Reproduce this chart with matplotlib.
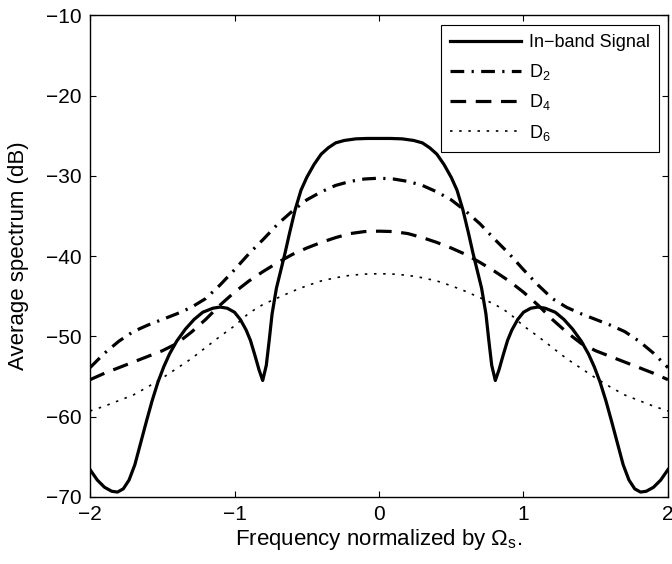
import matplotlib
matplotlib.use("Agg")
from matplotlib import pyplot as plt

# Fonts
plt.rcParams["font.family"] = ["Liberation Sans", "DejaVu Sans"]
plt.rcParams["mathtext.default"] = "regular"


# Data
signal_x = [-2.00, -1.95, -1.90, -1.85, -1.81, -1.77, -1.73, -1.69, -1.65, -1.61, -1.57, -1.53, -1.49,
	-1.45, -1.40, -1.34, -1.28, -1.22, -1.15, -1.10, -1.05, -1.00, -0.96, -0.92, -0.89, -0.86, -0.83,
	-0.805, -0.78, -0.76, -0.74, -0.71, -0.68, -0.65, -0.62, -0.58, -0.54, -0.50, -0.45, -0.40, -0.35,
	-0.30, -0.24, -0.16, -0.08, 0.00,
	0.08, 0.16, 0.24, 0.30, 0.35, 0.40, 0.45, 0.50, 0.54, 0.58, 0.62, 0.65, 0.68, 0.71, 0.74, 0.76,
	0.78, 0.805, 0.83, 0.86, 0.89, 0.92, 0.96, 1.00, 1.05, 1.10, 1.15, 1.22, 1.28, 1.34, 1.40, 1.45,
	1.49, 1.53, 1.57, 1.61, 1.65, 1.69, 1.73, 1.77, 1.81, 1.85, 1.90, 1.95, 2.00]
signal_y = [-66.6, -67.9, -68.8, -69.3, -69.4, -69.0, -67.9, -66.0, -63.3, -60.6, -58.0, -55.7, -53.8,
	-52.2, -50.6, -49.1, -47.9, -47.0, -46.5, -46.35, -46.5, -47.0, -47.9, -49.2, -50.5, -52.3, -54.2,
	-55.5, -53.6, -50.5, -47.2, -44.0, -41.8, -39.6, -37.2, -34.2, -31.8, -30.2, -28.6, -27.3, -26.5,
	-25.9, -25.6, -25.4, -25.35, -25.35,
	-25.35, -25.4, -25.6, -25.9, -26.5, -27.3, -28.6, -30.2, -31.8, -34.2, -37.2, -39.6, -41.8, -44.0,
	-47.2, -50.5, -53.6, -55.5, -54.2, -52.3, -50.5, -49.2, -47.9, -47.0, -46.5, -46.35, -46.5, -47.0,
	-47.9, -49.1, -50.6, -52.2, -53.8, -55.7, -58.0, -60.6, -63.3, -66.0, -67.9, -69.0, -69.4, -69.3,
	-68.8, -67.9, -66.6]

dist_x = [-2.0, -1.9, -1.8, -1.7, -1.6, -1.5, -1.4, -1.3, -1.2, -1.1, -1.0, -0.9, -0.8, -0.7, -0.6,
	-0.5, -0.4, -0.3, -0.2, -0.1, 0.0, 0.1, 0.2, 0.3, 0.4, 0.5, 0.6, 0.7, 0.8, 0.9, 1.0, 1.1, 1.2,
	1.3, 1.4, 1.5, 1.6, 1.7, 1.8, 1.9, 2.0]
d2_y = [-53.9, -52.1, -50.6, -49.4, -48.6, -47.9, -47.2, -46.4, -45.3, -43.6, -41.7, -39.7, -37.9,
	-36.0, -34.4, -33.0, -32.0, -31.2, -30.7, -30.4, -30.3, -30.4, -30.7, -31.2, -32.0, -33.0, -34.4,
	-36.0, -37.9, -39.7, -41.7, -43.6, -45.3, -46.4, -47.2, -47.9, -48.6, -49.4, -50.6, -52.1, -53.9]
d4_y = [-55.4, -54.6, -53.9, -53.2, -52.5, -51.8, -50.9, -49.5, -47.9, -46.1, -44.5, -43.1, -41.9,
	-40.8, -39.8, -39.0, -38.3, -37.7, -37.2, -36.95, -36.9, -36.95, -37.2, -37.7, -38.3, -39.0, -39.8,
	-40.8, -41.9, -43.1, -44.5, -46.1, -47.9, -49.5, -50.9, -51.8, -52.5, -53.2, -53.9, -54.6, -55.4]
d6_y = [-59.3, -58.7, -58.0, -57.3, -56.3, -55.2, -54.0, -52.8, -51.4, -50.0, -48.7, -47.1, -46.0,
	-45.2, -44.4, -43.7, -43.1, -42.7, -42.4, -42.25, -42.2, -42.25, -42.4, -42.7, -43.1, -43.7, -44.4,
	-45.2, -46.0, -47.1, -48.7, -50.0, -51.4, -52.8, -54.0, -55.2, -56.3, -57.3, -58.0, -58.7, -59.3]

labels = ["In\u2212band Signal", "D$_2$", "D$_4$", "D$_6$"]
x_ticks = [-2, -1, 0, 1, 2]
y_ticks = [-70, -60, -50, -40, -30, -20, -10]


# Figure
fig = plt.figure(figsize = (6.72, 5.64), dpi = 100)
ax = fig.add_axes([0.134, 0.119, 0.860, 0.854])

ax.plot(signal_x, signal_y, color = "black", lw = 2.3, linestyle = "-", label = labels[0])
ax.plot(dist_x, d2_y, color = "black", lw = 2.3, dashes = (4.3, 2.3, 0.7, 2.3), label = labels[1])
ax.plot(dist_x, d4_y, color = "black", lw = 2.3, dashes = (4.9, 3.0), label = labels[2])
ax.plot(dist_x, d6_y, color = "black", lw = 1.2, dashes = (1.5, 4.0), label = labels[3])

# Axes
ax.set_xlim(-2, 2)
ax.set_ylim(-70, -10)
ax.set_xticks(x_ticks)
ax.set_yticks(y_ticks)
ax.set_xticklabels([str(t).replace("-", "\u2212") for t in x_ticks])
ax.set_yticklabels([str(t).replace("-", "\u2212") for t in y_ticks])
ax.tick_params(direction = "in", length = 4, width = 0.8, top = True, right = True, labelsize = 15)
ax.tick_params(axis = "x", pad = 6)
ax.tick_params(axis = "y", pad = 6)
for spine in ax.spines.values():
	spine.set_linewidth(1.0)

ax.set_xlabel("Frequency normalized by \u03a9$_s$.", fontsize = 16, labelpad = 2)
ax.set_ylabel("Average spectrum (dB)", fontsize = 16, labelpad = 12)

# Legend
legend = ax.legend(loc = "upper right", bbox_to_anchor = (0.984, 0.979), borderaxespad = 0,
	fontsize = 13, handlelength = 3.9, labelspacing = 0.58, handletextpad = 0.45,
	fancybox = False, framealpha = 1, edgecolor = "black", borderpad = 0.5)
legend.get_frame().set_linewidth(0.8)

fig.savefig("out.png", dpi = 100)
